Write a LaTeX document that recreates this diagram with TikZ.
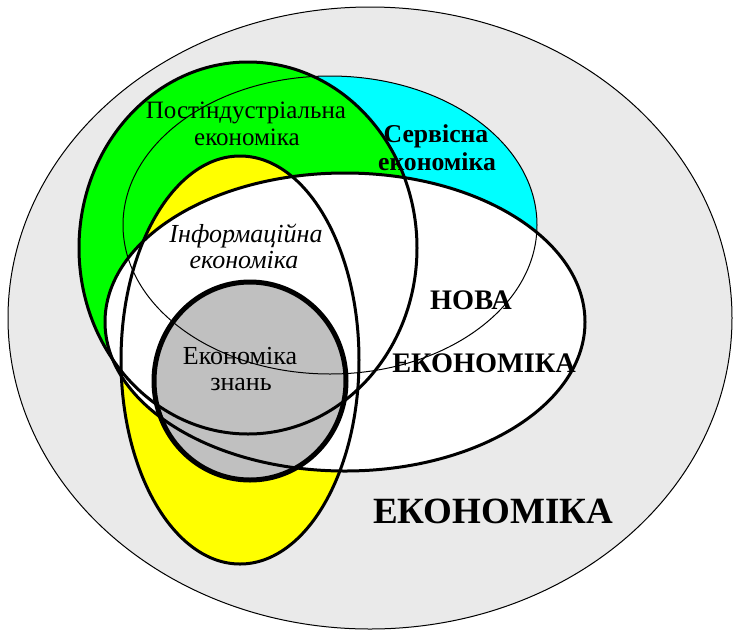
\documentclass[tikz,border=0pt]{standalone}
\usepackage{fontspec}
\setmainfont{Liberation Serif}
\begin{document}
\begin{tikzpicture}[x=1pt,y=-1pt,
  thickline/.style={draw=black,line width=3pt},
  thinline/.style={draw=black,line width=1pt},
  lbl/.style={inner sep=0pt,anchor=base,text=black},
  postfont/.style={font=\fontsize{25}{28}\selectfont},
  servfont/.style={font=\fontsize{25.7}{28}\selectfont\bfseries},
  infofont/.style={font=\fontsize{26}{28}\selectfont\itshape},
  knowfont/.style={font=\fontsize{26}{28}\selectfont},
  newfont/.style={font=\fontsize{28.3}{30}\selectfont\bfseries},
  bigfont/.style={font=\fontsize{37}{40}\selectfont\bfseries}]
\definecolor{outergrey}{HTML}{EAEAEA}
\definecolor{cyanfill}{HTML}{00FFFF}
\definecolor{greenfill}{HTML}{00FF00}
\definecolor{yellowfill}{HTML}{FFFF00}
\definecolor{circlegrey}{HTML}{C0C0C0}
\useasboundingbox (0,0) rectangle (734,633);
% outer economy
\draw[fill=outergrey,line width=1pt] (370,318) ellipse [x radius=362, y radius=311];
% fills
\fill[cyanfill] (330,225) ellipse [x radius=207, y radius=149];
\fill[greenfill] (248,248) ellipse [x radius=169, y radius=186];
\fill[yellowfill] (240,360) ellipse [x radius=119, y radius=204];
\fill[white] (345,322) ellipse [x radius=240, y radius=149];
\fill[circlegrey] (250,381) ellipse [x radius=96, y radius=99];
% outlines
\draw[thickline] (248,248) ellipse [x radius=169, y radius=186];
\draw[thickline] (240,360) ellipse [x radius=119, y radius=204];
\draw[thickline] (345,322) ellipse [x radius=240, y radius=149];
\draw[draw=black,line width=5pt] (250,381) ellipse [x radius=96, y radius=99];
\draw[thinline] (330,225) ellipse [x radius=207, y radius=149];
% labels
\node[lbl,postfont] (post1) at (246,118) {Постіндустріальна};
\node[lbl,postfont] (post2) at (247,145) {економіка};
\node[lbl,servfont] (serv1) at (436,142) {Сервісна};
\node[lbl,servfont] (serv2) at (437,170) {економіка};
\node[lbl,infofont] (info1) at (246,242) {Інформаційна};
\node[lbl,infofont] (info2) at (244,268) {економіка};
\node[lbl,knowfont] (know1) at (240,364) {Економіка};
\node[lbl,knowfont] (know2) at (241,390) {знань};
\node[lbl,newfont] (new1) at (471,309) {НОВА};
\node[lbl,newfont] (new2) at (484,372) {ЕКОНОМІКА};
\node[lbl,bigfont] (econ) at (493,523) {ЕКОНОМІКА};
\end{tikzpicture}
\end{document}
